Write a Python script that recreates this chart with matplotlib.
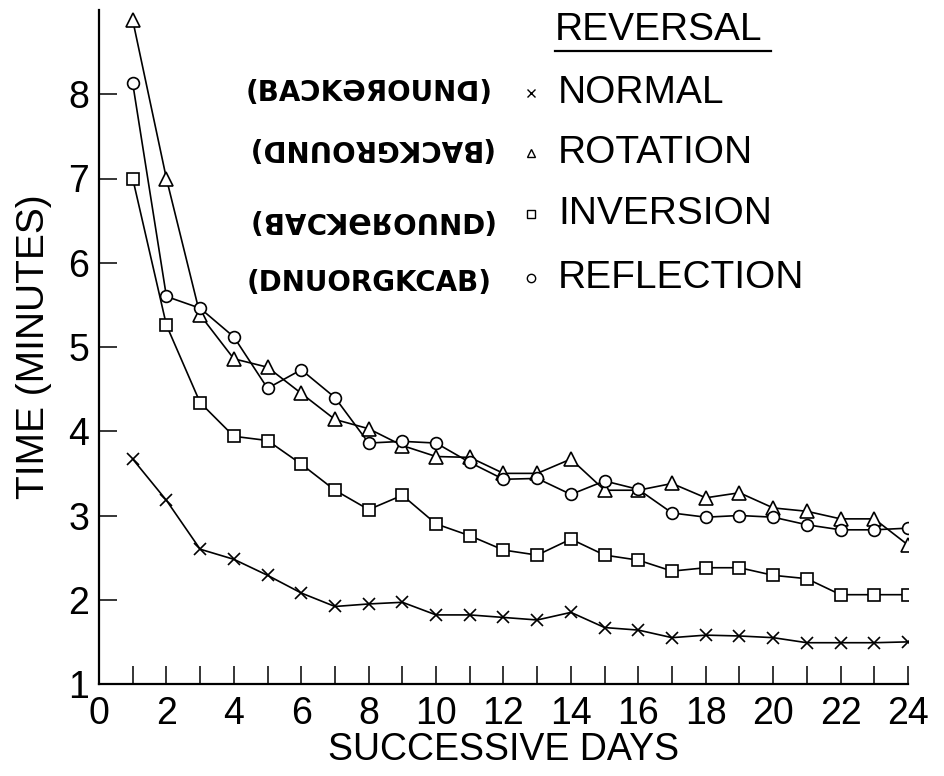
import matplotlib

matplotlib.use("Agg")
import matplotlib.pyplot as plt
from matplotlib.ticker import FixedLocator

# values (minutes per day)
days = list(range(1, 25))
normal = [3.67, 3.18, 2.60, 2.48, 2.29, 2.08, 1.92, 1.95, 1.97, 1.82, 1.82, 1.79,
          1.76, 1.85, 1.67, 1.64, 1.55, 1.58, 1.57, 1.55, 1.49, 1.49, 1.49, 1.50]
rotation = [8.88, 7.00, 5.38, 4.86, 4.76, 4.45, 4.14, 4.03, 3.83, 3.70, 3.69, 3.50,
            3.50, 3.67, 3.30, 3.30, 3.38, 3.21, 3.27, 3.09, 3.05, 2.96, 2.96, 2.65]
inversion = [7.00, 5.26, 4.34, 3.94, 3.89, 3.61, 3.30, 3.07, 3.24, 2.90, 2.76, 2.59,
             2.53, 2.72, 2.53, 2.47, 2.34, 2.38, 2.38, 2.29, 2.25, 2.06, 2.06, 2.06]
reflection = [8.13, 5.60, 5.46, 5.12, 4.51, 4.73, 4.40, 3.86, 3.88, 3.86, 3.63, 3.43,
              3.44, 3.25, 3.41, 3.31, 3.03, 2.98, 3.00, 2.98, 2.89, 2.83, 2.83, 2.85]

series_names = ["NORMAL", "ROTATION", "INVERSION", "REFLECTION"]
series_markers = ["x", "^", "s", "o"]
# hand-lettered "(BACKGROUND)" samples next to the key, and whether they are turned
samples = ["(BAƆKӘЯOUNᗡ)", "(BACKGROUND)", "(ᗡNUOЯӘKƆAB)", "(DNUORGKCAB)"]
sample_rot = [0, 180, 180, 0]

W, H = 944, 776
FONT = "Liberation Sans"
plt.rcParams["font.family"] = [FONT, "DejaVu Sans"]
FS = 27


def fx(px):
    return px / W


def fy(py):
    return 1 - py / H


fig = plt.figure(figsize=(W / 100, H / 100), dpi=100)
ax = fig.add_axes([fx(99), fy(684), fx(908) - fx(99), fy(10) - fy(684)])

sizes = {"x": 9, "^": 10, "s": 8, "o": 8.5}
for vals, m in zip([normal, rotation, inversion, reflection], series_markers):
    ax.plot(days, vals, color="black", lw=1.2, marker=m, ms=sizes[m],
            mfc="white", mec="black", mew=1.2, zorder=3)

ax.set_xlim(0, 24)
ax.set_ylim(1, 9)
for s in ["top", "right"]:
    ax.spines[s].set_visible(False)
for s in ["left", "bottom"]:
    ax.spines[s].set_linewidth(1.6)

ax.xaxis.set_major_locator(FixedLocator(range(0, 25, 2)))
ax.xaxis.set_minor_locator(FixedLocator(range(1, 25, 2)))
ax.yaxis.set_major_locator(FixedLocator(range(1, 9)))
ax.tick_params(axis="both", which="both", direction="in", length=13, width=1.1,
               labelsize=FS, colors="black")
ax.tick_params(axis="x", pad=9)
ax.tick_params(axis="y", pad=7)

ax.set_xlabel("SUCCESSIVE DAYS", fontsize=FS, labelpad=0)
ax.set_ylabel("TIME (MINUTES)", fontsize=FS + 1, labelpad=12)

# key
fig.text(fx(555), fy(30), "REVERSAL", fontsize=FS + 1, ha="left", va="center")
fig.add_artist(plt.Line2D([fx(555), fx(771)], [fy(51), fy(51)], color="black", lw=1.6))
rows_y = [93, 153, 214, 278]
for name, m, py in zip(series_names, series_markers, rows_y):
    fig.add_artist(plt.Line2D([fx(531)], [fy(py)], marker=m, ms=6, mfc="white",
                              mec="black", mew=1.0, ls="none"))
    fig.text(fx(558), fy(py), name, fontsize=FS + 1, ha="left", va="center")

samp_y = [93, 148, 220, 283]
for txt, rot, py in zip(samples, sample_rot, samp_y):
    fig.text(fx(369), fy(py), txt, fontsize=20, fontweight="bold", ha="center",
             va="center", rotation=rot, rotation_mode="anchor",
             family=["DejaVu Sans", "Noto Sans"])

fig.savefig("out.png", dpi=100)
